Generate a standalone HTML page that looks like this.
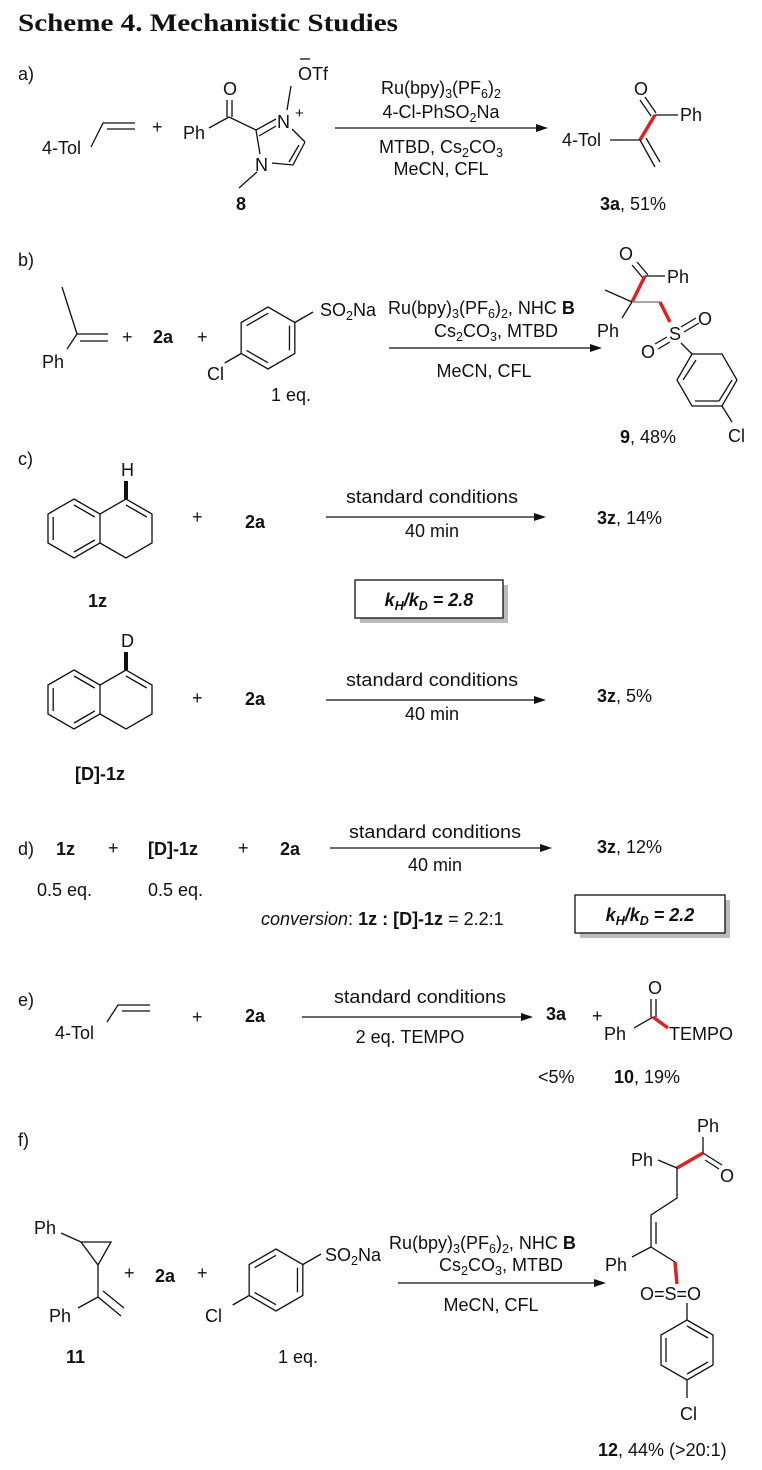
<!DOCTYPE html>
<html><head><meta charset="utf-8"><style>
html,body{margin:0;padding:0;background:#fff;}
svg{display:block;}
text{font-family:"Liberation Sans",Arial,sans-serif;font-size:18px;fill:#111;}
.b{font-weight:bold;}
.s{font-size:12.5px;}
line,polyline,polygon{stroke:#111;stroke-width:1.3;fill:none;}
.r{stroke:#d22;stroke-width:3.5;}
.g{stroke:#888;stroke-width:1.5;}
.ah{fill:#111;stroke:none;}
</style></head><body>
<svg width="762" height="1470" viewBox="0 0 762 1470" xmlns="http://www.w3.org/2000/svg">
<text x="18" y="31" style="font-family:'Liberation Serif',serif;font-size:25px;font-weight:bold" textLength="380" lengthAdjust="spacingAndGlyphs">Scheme 4. Mechanistic Studies</text>

<!-- a -->
<text x="18" y="80">a)</text>
<text x="42" y="154">4-Tol</text>
<polyline points="91,147 103,123 135,123"/><line x1="107" y1="129" x2="135" y2="129"/>
<text x="152" y="133">+</text>
<text x="223" y="95">O</text>
<line x1="227" y1="100" x2="227" y2="117"/><line x1="232" y1="100" x2="232" y2="117"/>
<text x="183" y="139">Ph</text>
<line x1="229" y1="117" x2="209" y2="128"/>
<line x1="229" y1="117" x2="256" y2="130"/>
<line x1="256" y1="130" x2="276" y2="119"/><line x1="259" y1="136" x2="276" y2="126"/>
<text x="277" y="128">N</text><text x="295" y="118" style="font-size:15px">+</text>
<line x1="287" y1="110" x2="291" y2="86"/>
<text x="298" y="80">OTf</text><line x1="300" y1="59" x2="310" y2="59"/>
<line x1="292" y1="129" x2="305" y2="142"/>
<line x1="305" y1="142" x2="293" y2="165"/><line x1="299" y1="145" x2="289" y2="162"/>
<line x1="293" y1="165" x2="272" y2="163"/>
<text x="255" y="171">N</text>
<line x1="260" y1="154" x2="256" y2="130"/>
<line x1="257" y1="172" x2="239" y2="188"/>
<text x="236" y="210" class="b">8</text>

<line x1="335" y1="128" x2="540" y2="128"/><polygon class="ah" points="548,128 536,124 536,132"/>
<text x="441" y="94" text-anchor="middle">Ru(bpy)<tspan class="s" dy="4">3</tspan><tspan dy="-4">(PF</tspan><tspan class="s" dy="4">6</tspan><tspan dy="-4">)</tspan><tspan class="s" dy="4">2</tspan></text>
<text x="441" y="118" text-anchor="middle">4-Cl-PhSO<tspan class="s" dy="4">2</tspan><tspan dy="-4">Na</tspan></text>
<text x="441" y="153" text-anchor="middle">MTBD, Cs<tspan class="s" dy="4">2</tspan><tspan dy="-4">CO</tspan><tspan class="s" dy="4">3</tspan></text>
<text x="441" y="175" text-anchor="middle">MeCN, CFL</text>

<text x="634" y="95">O</text>
<line x1="640" y1="100" x2="651" y2="116"/><line x1="645" y1="97" x2="656" y2="113"/>
<line x1="655" y1="115" x2="678" y2="115"/><text x="680" y="121">Ph</text>
<line class="r" x1="655" y1="115" x2="640" y2="140"/>
<text x="562" y="146">4-Tol</text>
<line x1="610" y1="140" x2="640" y2="140"/>
<line x1="640" y1="140" x2="655" y2="167"/><line x1="646" y1="138" x2="660" y2="162"/>
<text x="600" y="210"><tspan class="b">3a</tspan>, 51%</text>

<!-- b -->
<text x="18" y="266">b)</text>
<line x1="62" y1="287" x2="77" y2="334"/>
<line x1="77" y1="334" x2="108" y2="334"/><line x1="80" y1="341" x2="108" y2="341"/>
<line x1="77" y1="334" x2="67" y2="349"/><text x="42" y="368">Ph</text>
<text x="122" y="343">+</text><text x="153" y="343" class="b">2a</text><text x="197" y="343">+</text>
<g transform="translate(268,338) rotate(-30)">
<polygon points="31,0 15.5,26.8 -15.5,26.8 -31,0 -15.5,-26.8 15.5,-26.8"/>
<line x1="24.8" y1="0" x2="12.4" y2="21.4"/><line x1="-12.4" y1="21.4" x2="-24.8" y2="0"/><line x1="-12.4" y1="-21.4" x2="12.4" y2="-21.4"/>
<line x1="31" y1="0" x2="52" y2="0"/><line x1="-31" y1="0" x2="-50" y2="0"/>
</g>
<text x="320" y="316">SO<tspan class="s" dy="4">2</tspan><tspan dy="-4">Na</tspan></text>
<text x="207" y="380">Cl</text>
<text x="271" y="401">1 eq.</text>
<text x="388" y="314">Ru(bpy)<tspan class="s" dy="4">3</tspan><tspan dy="-4">(PF</tspan><tspan class="s" dy="4">6</tspan><tspan dy="-4">)</tspan><tspan class="s" dy="4">2</tspan><tspan dy="-4">, NHC </tspan><tspan class="b">B</tspan></text>
<text x="496" y="337" text-anchor="middle">Cs<tspan class="s" dy="4">2</tspan><tspan dy="-4">CO</tspan><tspan class="s" dy="4">3</tspan><tspan dy="-4">, MTBD</tspan></text>
<line x1="389" y1="348" x2="594" y2="348"/><polygon class="ah" points="602,348 590,344 590,352"/>
<text x="484" y="377" text-anchor="middle">MeCN, CFL</text>

<text x="619" y="260">O</text>
<line x1="632" y1="265" x2="643" y2="278"/><line x1="637" y1="262" x2="648" y2="275"/>
<line x1="645" y1="276" x2="665" y2="276"/><text x="667" y="283">Ph</text>
<line class="r" x1="645" y1="276" x2="632" y2="302"/>
<line x1="632" y1="302" x2="605" y2="290"/>
<line x1="632" y1="302" x2="622" y2="318"/><text x="597" y="337">Ph</text>
<line class="g" x1="632" y1="302" x2="660" y2="302"/>
<line class="r" x1="660" y1="302" x2="670" y2="322"/>
<text x="669" y="340">S</text>
<line x1="681" y1="327" x2="696" y2="318"/><line x1="684" y1="332" x2="699" y2="323"/>
<text x="698" y="325">O</text>
<line x1="667" y1="337" x2="655" y2="344"/><line x1="670" y1="342" x2="658" y2="349"/>
<text x="641" y="358">O</text>
<line x1="681" y1="343" x2="692" y2="354"/>
<polygon points="737,380 722,406 692,406 677,380 692,354 722,354"/>
<line x1="696" y1="360" x2="683" y2="380"/><line x1="732" y1="380" x2="719" y2="401"/><line x1="695" y1="401" x2="719" y2="401"/>
<line x1="722" y1="406" x2="732" y2="422"/>
<text x="728" y="442">Cl</text>
<text x="620" y="443"><tspan class="b">9</tspan>, 48%</text>

<!-- c -->
<text x="18" y="465">c)</text>
<g id="dhn">
<polygon points="74,499 100,514 100,543 74,558 48,543 48,514"/>
<polyline points="100,514 126,499 152,514 152,543 126,558 100,543"/>
<line x1="74" y1="505" x2="94.8" y2="517"/><line x1="53.2" y1="540" x2="53.2" y2="517"/><line x1="94.8" y1="540" x2="74" y2="552"/>
<line x1="126" y1="505" x2="146.8" y2="517"/>
<line x1="126" y1="499" x2="126" y2="481" style="stroke-width:4"/>
</g>
<text x="121" y="476">H</text>
<text x="88" y="607" class="b">1z</text>
<text x="192" y="523">+</text><text x="245" y="528" class="b">2a</text>
<line x1="326" y1="517" x2="538" y2="517"/><polygon class="ah" points="546,517 534,513 534,521"/>
<text x="432" y="503" text-anchor="middle" textLength="172" lengthAdjust="spacingAndGlyphs">standard conditions</text>
<text x="432" y="537" text-anchor="middle">40 min</text>
<text x="597" y="524"><tspan class="b">3z</tspan>, 14%</text>
<rect x="360" y="585" width="148" height="38" fill="#bbb"/>
<rect x="355" y="580" width="148" height="38" fill="#fff" stroke="#111" stroke-width="1.3"/>
<text x="429" y="606" text-anchor="middle" class="b" style="font-style:italic">k<tspan class="s" dy="4">H</tspan><tspan dy="-4">/k</tspan><tspan class="s" dy="4">D</tspan><tspan dy="-4"> = 2.8</tspan></text>

<use href="#dhn" transform="translate(0,171)"/>
<text x="121" y="647">D</text>
<text x="75" y="780" class="b">[D]-1z</text>
<text x="192" y="704">+</text><text x="245" y="705" class="b">2a</text>
<line x1="326" y1="700" x2="538" y2="700"/><polygon class="ah" points="546,700 534,696 534,704"/>
<text x="432" y="686" text-anchor="middle" textLength="172" lengthAdjust="spacingAndGlyphs">standard conditions</text>
<text x="432" y="720" text-anchor="middle">40 min</text>
<text x="597" y="702"><tspan class="b">3z</tspan>, 5%</text>

<!-- d -->
<text x="18" y="855">d)</text>
<text x="56" y="855" class="b">1z</text><text x="108" y="854">+</text>
<text x="148" y="855" class="b">[D]-1z</text><text x="238" y="854">+</text>
<text x="280" y="855" class="b">2a</text>
<line x1="330" y1="848" x2="544" y2="848"/><polygon class="ah" points="552,848 540,844 540,852"/>
<text x="435" y="838" text-anchor="middle" textLength="172" lengthAdjust="spacingAndGlyphs">standard conditions</text>
<text x="435" y="871" text-anchor="middle">40 min</text>
<text x="597" y="853"><tspan class="b">3z</tspan>, 12%</text>
<text x="37" y="896">0.5 eq.</text><text x="148" y="896">0.5 eq.</text>
<text x="261" y="925"><tspan style="font-style:italic">conversion</tspan>: <tspan class="b">1z : [D]-1z</tspan> = 2.2:1</text>
<rect x="580" y="900" width="150" height="38" fill="#bbb"/>
<rect x="575" y="895" width="150" height="38" fill="#fff" stroke="#111" stroke-width="1.3"/>
<text x="650" y="921" text-anchor="middle" class="b" style="font-style:italic">k<tspan class="s" dy="4">H</tspan><tspan dy="-4">/k</tspan><tspan class="s" dy="4">D</tspan><tspan dy="-4"> = 2.2</tspan></text>

<!-- e -->
<text x="18" y="1006">e)</text>
<text x="55" y="1039">4-Tol</text>
<polyline points="107,1022 118,1005 150,1005"/><line x1="122" y1="1011" x2="150" y2="1011"/>
<text x="192" y="1023">+</text><text x="245" y="1022" class="b">2a</text>
<line x1="302" y1="1017" x2="525" y2="1017"/><polygon class="ah" points="533,1017 521,1013 521,1021"/>
<text x="420" y="1003" text-anchor="middle" textLength="172" lengthAdjust="spacingAndGlyphs">standard conditions</text>
<text x="410" y="1043" text-anchor="middle">2 eq. TEMPO</text>
<text x="546" y="1020" class="b">3a</text><text x="592" y="1022">+</text>
<text x="648" y="994">O</text>
<line x1="651" y1="999" x2="651" y2="1017"/><line x1="656" y1="999" x2="656" y2="1017"/>
<line x1="653" y1="1017" x2="634" y2="1028"/><text x="604" y="1040">Ph</text>
<line class="r" x1="653" y1="1017" x2="668" y2="1028"/>
<text x="669" y="1040">TEMPO</text>
<text x="538" y="1083">&lt;5%</text>
<text x="614" y="1083"><tspan class="b">10</tspan>, 19%</text>

<!-- f -->
<text x="18" y="1146">f)</text>
<text x="34" y="1234">Ph</text>
<line x1="61" y1="1233" x2="81" y2="1242"/>
<polygon points="81,1242 111,1242 98,1265"/>
<line x1="98" y1="1265" x2="98" y2="1297"/>
<line x1="98" y1="1297" x2="78" y2="1308"/><text x="49" y="1322">Ph</text>
<line x1="98" y1="1297" x2="121" y2="1316"/><line x1="103" y1="1291" x2="124" y2="1308"/>
<text x="66" y="1363" class="b">11</text>
<text x="124" y="1279">+</text><text x="155" y="1282" class="b">2a</text><text x="197" y="1279">+</text>
<g transform="translate(276,1280) rotate(-30)">
<polygon points="31,0 15.5,26.8 -15.5,26.8 -31,0 -15.5,-26.8 15.5,-26.8"/>
<line x1="24.8" y1="0" x2="12.4" y2="21.4"/><line x1="-12.4" y1="21.4" x2="-24.8" y2="0"/><line x1="-12.4" y1="-21.4" x2="12.4" y2="-21.4"/>
<line x1="31" y1="0" x2="52" y2="0"/><line x1="-31" y1="0" x2="-50" y2="0"/>
</g>
<text x="325" y="1261">SO<tspan class="s" dy="4">2</tspan><tspan dy="-4">Na</tspan></text>
<text x="205" y="1322">Cl</text>
<text x="278" y="1363">1 eq.</text>
<text x="389" y="1249">Ru(bpy)<tspan class="s" dy="4">3</tspan><tspan dy="-4">(PF</tspan><tspan class="s" dy="4">6</tspan><tspan dy="-4">)</tspan><tspan class="s" dy="4">2</tspan><tspan dy="-4">, NHC </tspan><tspan class="b">B</tspan></text>
<text x="501" y="1271" text-anchor="middle">Cs<tspan class="s" dy="4">2</tspan><tspan dy="-4">CO</tspan><tspan class="s" dy="4">3</tspan><tspan dy="-4">, MTBD</tspan></text>
<line x1="398" y1="1283" x2="598" y2="1283"/><polygon class="ah" points="606,1283 594,1279 594,1287"/>
<text x="491" y="1311" text-anchor="middle">MeCN, CFL</text>

<text x="697" y="1132">Ph</text>
<line x1="703" y1="1137" x2="703" y2="1153"/>
<line x1="703" y1="1153" x2="722" y2="1165"/><line x1="705" y1="1160" x2="719" y2="1169"/>
<text x="720" y="1182">O</text>
<line class="r" x1="703" y1="1153" x2="677" y2="1168"/>
<text x="631" y="1166">Ph</text>
<line x1="658" y1="1160" x2="677" y2="1168"/>
<polyline points="677,1168 677,1198 651,1215 651,1247 675,1262"/>
<line x1="656" y1="1222" x2="656" y2="1244"/>
<line x1="651" y1="1247" x2="632" y2="1257"/><text x="605" y="1271">Ph</text>
<line class="r" x1="675" y1="1262" x2="677" y2="1284"/>
<text x="640" y="1300">O=S=O</text>
<line x1="687" y1="1303" x2="687" y2="1320"/>
<polygon points="687,1320 713,1335 713,1365 687,1380 661,1365 661,1335"/>
<line x1="687" y1="1326" x2="708" y2="1338"/><line x1="708" y1="1362" x2="687" y2="1374"/><line x1="666" y1="1362" x2="666" y2="1338"/>
<line x1="687" y1="1380" x2="687" y2="1398"/>
<text x="680" y="1420">Cl</text>
<text x="598" y="1456"><tspan class="b">12</tspan>, 44% (&gt;20:1)</text>
</svg>
</body></html>
